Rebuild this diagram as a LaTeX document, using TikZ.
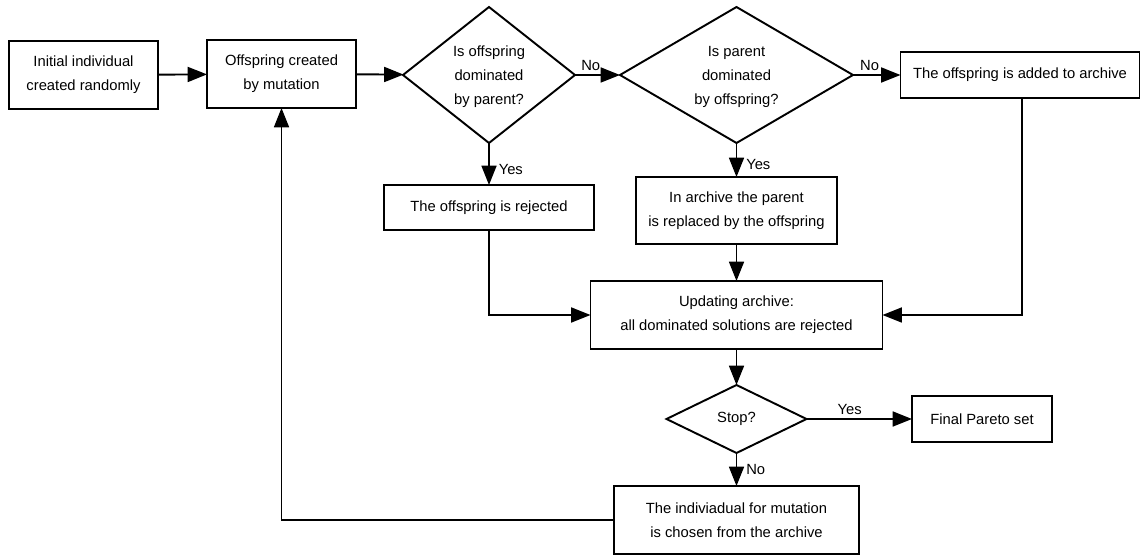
\documentclass[tikz,border=0pt]{standalone}
\usepackage{fontspec}
\setmainfont{Liberation Sans}
\usetikzlibrary{shapes.geometric,arrows.meta}

\begin{document}
\begin{tikzpicture}[
  every node/.style={font=\fontsize{8.4}{13.7}\selectfont, align=center},
  box/.style={draw, line width=1.1pt, rectangle, inner sep=0pt, outer sep=0pt},
  test/.style={draw, line width=1.1pt, diamond, inner sep=0pt, outer sep=0pt},
  flow/.style={line width=1.1pt, -{Triangle[length=11pt,width=8.5pt]}},
  lbl/.style={inner sep=2pt}
]

\useasboundingbox (0,0) rectangle (22.82,-11.12);

% ---- top row ----
\node[box, minimum width=2.98cm, minimum height=1.36cm] (init) at (1.67,-1.5) {Initial individual\\created randomly};
\node[box, minimum width=2.98cm, minimum height=1.36cm] (mutate) at (5.63,-1.48) {Offspring created\\by mutation};
\node[test, aspect=1.26, minimum width=3.44cm, minimum height=2.72cm] (domoff) at (9.78,-1.5) {\\[-6pt]Is offspring\\dominated\\by parent?};
\node[test, aspect=1.71, minimum width=4.66cm, minimum height=2.72cm] (dompar) at (14.73,-1.5) {\\[-6pt]Is parent\\dominated\\by offspring?};
\node[box, minimum width=4.78cm, minimum height=0.92cm] (added) at (20.4,-1.5) {The offspring is added to archive};

% ---- second row ----
\node[box, minimum width=4.2cm, minimum height=0.9cm] (reject) at (9.78,-4.15) {The offspring is rejected};
\node[box, minimum width=4.02cm, minimum height=1.34cm] (replace) at (14.73,-4.21) {In archive the parent\\is replaced by the offspring};

% ---- archive update and stop test ----
\node[box, minimum width=5.84cm, minimum height=1.36cm] (update) at (14.73,-6.3) {Updating archive:\\all dominated solutions are rejected};
\node[test, aspect=2.05, minimum width=2.8cm, minimum height=1.36cm] (stop) at (14.73,-8.38) {Stop?};
\node[box, minimum width=2.8cm, minimum height=0.92cm] (final) at (19.64,-8.38) {Final Pareto set};
\node[box, minimum width=4.9cm, minimum height=1.36cm] (select) at (14.73,-10.4) {The indiviadual for mutation\\is chosen from the archive};

% ---- connectors ----
\draw[flow] (init) -- (mutate);
\draw[flow] (mutate) -- (domoff);
\draw[flow] (domoff) -- node[lbl, pos=0.35, above] {No} (dompar);
\draw[flow] (dompar) -- node[lbl, pos=0.35, above] {No} (added);
\draw[flow] (domoff) -- node[lbl, pos=0.62, right, xshift=3pt] {Yes} (reject);
\draw[flow] (dompar) -- node[lbl, pos=0.62, right, xshift=3pt] {Yes} (replace);
\draw[flow] (replace) -- (update);
\draw[flow] (reject) |- (update);
\draw[flow] (added.south -| 20.44,0) |- (update);
\draw[flow] (update) -- (stop);
\draw[flow] (stop) -- node[lbl, pos=0.41, above] {Yes} (final);
\draw[flow] (stop) -- node[lbl, pos=0.5, right, xshift=3pt] {No} (select);
\draw[flow] (select) -| (mutate);

\end{tikzpicture}
\end{document}
